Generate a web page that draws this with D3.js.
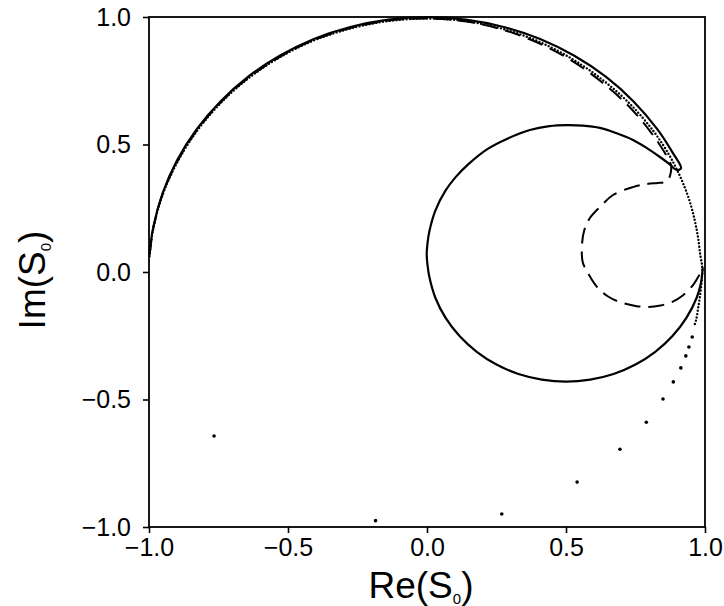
<!DOCTYPE html>
<html>
<head>
<meta charset="utf-8">
<script src="https://cdn.jsdelivr.net/npm/d3@7"></script>
<style>
  html, body { margin: 0; padding: 0; background: #fff; }
  svg { display: block; }
  text { font-family: "Liberation Sans", Arial, Helvetica, sans-serif; fill: #000; }
</style>
</head>
<body>
<svg id="chart" width="724" height="606"></svg>
<script>
// Argand diagram of the S-wave S-matrix element S0: [Re, Im] pairs.

// Solid curve: unitary arc, cusp, then the inner loop back to S0 = 1
const solidCurve = [
  [-0.998, 0.070], [-0.985, 0.174], [-0.951, 0.309], [-0.899, 0.438], [-0.829, 0.559],
  [-0.743, 0.669], [-0.643, 0.766], [-0.530, 0.848], [-0.407, 0.914], [-0.276, 0.961],
  [-0.139, 0.990], [0.000, 1.000], [0.139, 0.990], [0.276, 0.961], [0.407, 0.914],
  [0.530, 0.848], [0.643, 0.766], [0.743, 0.669], [0.829, 0.559], [0.883, 0.469],
  [0.914, 0.407],
  [0.898, 0.400], [0.870, 0.425], [0.838, 0.451], [0.790, 0.487], [0.741, 0.518],
  [0.680, 0.545], [0.622, 0.565], [0.560, 0.574], [0.503, 0.576], [0.440, 0.572],
  [0.370, 0.557], [0.289, 0.523], [0.217, 0.482], [0.150, 0.424], [0.103, 0.372],
  [0.067, 0.320], [0.030, 0.241], [0.008, 0.157], [0.002, 0.114], [-0.001, 0.070],
  [0.002, 0.026], [0.008, -0.017], [0.030, -0.101], [0.067, -0.180], [0.117, -0.251],
  [0.179, -0.313], [0.250, -0.363], [0.329, -0.400], [0.413, -0.422], [0.500, -0.430],
  [0.587, -0.422], [0.671, -0.400], [0.750, -0.363], [0.821, -0.313], [0.883, -0.251],
  [0.933, -0.180], [0.970, -0.101], [0.986, -0.040], [0.992, 0.018]
];

// Dashed curve: follows the arc, hooks at the top right and makes a small loop
const dashedCurve = [
  [-0.998, 0.066], [-0.985, 0.170], [-0.951, 0.305], [-0.898, 0.434], [-0.828, 0.555],
  [-0.742, 0.665], [-0.642, 0.762], [-0.529, 0.844], [-0.406, 0.910], [-0.275, 0.957],
  [-0.139, 0.986], [0.000, 0.994], [0.138, 0.983], [0.273, 0.950], [0.401, 0.898],
  [0.519, 0.830], [0.627, 0.746], [0.725, 0.651], [0.808, 0.544], [0.861, 0.457],
  [0.878, 0.418], [0.876, 0.385], [0.868, 0.363], [0.852, 0.352], [0.830, 0.349],
  [0.790, 0.345], [0.741, 0.333], [0.669, 0.302], [0.622, 0.255], [0.586, 0.212],
  [0.566, 0.165], [0.558, 0.114], [0.560, 0.039], [0.576, 0.002], [0.612, -0.059],
  [0.650, -0.095], [0.694, -0.118], [0.750, -0.133], [0.791, -0.137], [0.840, -0.131],
  [0.881, -0.118], [0.920, -0.092], [0.957, -0.051], [0.978, -0.015], [0.992, 0.018]
];

// Dotted curve: densely sampled run around the unit circle
const dottedCurve = [
  [-0.998, 0.062], [-0.985, 0.168], [-0.951, 0.303], [-0.897, 0.433], [-0.827, 0.554],
  [-0.741, 0.664], [-0.641, 0.761], [-0.528, 0.843], [-0.405, 0.909], [-0.275, 0.955],
  [-0.139, 0.984], [0.000, 0.994], [0.138, 0.984], [0.274, 0.953], [0.403, 0.903],
  [0.523, 0.835], [0.633, 0.752], [0.732, 0.657], [0.817, 0.549], [0.870, 0.461],
  [0.900, 0.399], [0.926, 0.335], [0.947, 0.270], [0.963, 0.203], [0.975, 0.135],
  [0.983, 0.067], [0.990, 0.018], [0.988, -0.035], [0.983, -0.086], [0.976, -0.137],
  [0.968, -0.188], [0.960, -0.215]
];

// Dotted curve: the sparse points further along the circle
const dottedPoints = [
  [0.954, -0.255], [0.942, -0.294], [0.931, -0.329], [0.913, -0.376], [0.886, -0.431],
  [0.849, -0.498], [0.789, -0.589], [0.694, -0.695], [0.540, -0.824], [0.269, -0.949],
  [-0.185, -0.975], [-0.766, -0.643]
];

const tickValues = [-1.0, -0.5, 0.0, 0.5, 1.0];

const svg = d3.select("#chart");
const margin = { left: 149, top: 17, right: 19, bottom: 79 };
const W = 724 - margin.left - margin.right;
const H = 606 - margin.top - margin.bottom;

const x = d3.scaleLinear().domain([-1, 1]).range([margin.left, margin.left + W]);
const y = d3.scaleLinear().domain([-1, 1]).range([margin.top + H, margin.top]);

const line = d3.line()
  .x(d => x(d[0]))
  .y(d => y(d[1]))
  .curve(d3.curveCatmullRom.alpha(0.5));

const plot = svg.append("g");

plot.append("path")
  .attr("d", line(dottedCurve))
  .attr("fill", "none")
  .attr("stroke", "#000")
  .attr("stroke-width", 2.4)
  .attr("stroke-linecap", "round")
  .attr("stroke-dasharray", "0 3.4");

plot.selectAll("circle.pt")
  .data(dottedPoints)
  .join("circle")
  .attr("class", "pt")
  .attr("cx", d => x(d[0]))
  .attr("cy", d => y(d[1]))
  .attr("r", 1.8)
  .attr("fill", "#000");

plot.append("path")
  .attr("d", line(dashedCurve))
  .attr("fill", "none")
  .attr("stroke", "#000")
  .attr("stroke-width", 2)
  .attr("stroke-dasharray", "16 8");

plot.append("path")
  .attr("d", line(solidCurve))
  .attr("fill", "none")
  .attr("stroke", "#000")
  .attr("stroke-width", 2.2)
  .attr("stroke-linejoin", "round");

// Frame
svg.append("rect")
  .attr("x", margin.left)
  .attr("y", margin.top)
  .attr("width", W)
  .attr("height", H)
  .attr("fill", "none")
  .attr("stroke", "#000")
  .attr("stroke-width", 1.8);

const fmt = d3.format(".1f");

const xAxis = svg.append("g")
  .attr("transform", `translate(0,${margin.top + H})`)
  .call(d3.axisBottom(x).tickValues(tickValues).tickFormat(fmt).tickSize(6).tickPadding(5));

const yAxis = svg.append("g")
  .attr("transform", `translate(${margin.left},0)`)
  .call(d3.axisLeft(y).tickValues(tickValues).tickFormat(fmt).tickSize(6).tickPadding(12));

[xAxis, yAxis].forEach(g => {
  g.select(".domain").remove();
  g.selectAll(".tick line").attr("stroke", "#000").attr("stroke-width", 1.6);
  g.selectAll(".tick text")
    .attr("font-family", "'Liberation Sans', Arial, Helvetica, sans-serif")
    .attr("font-size", 25)
    .attr("fill", "#000");
});

// Axis titles with subscript
const xTitle = svg.append("text")
  .attr("x", 421)
  .attr("y", 598)
  .attr("text-anchor", "middle")
  .attr("font-size", 37);
xTitle.append("tspan").text("Re(S");
xTitle.append("tspan").attr("font-size", 15).attr("dy", 6).text("0");
xTitle.append("tspan").attr("dy", -6).text(")");

const yTitle = svg.append("text")
  .attr("transform", "translate(45,280) rotate(-90)")
  .attr("text-anchor", "middle")
  .attr("font-size", 37);
yTitle.append("tspan").text("Im(S");
yTitle.append("tspan").attr("font-size", 15).attr("dy", 6).text("0");
yTitle.append("tspan").attr("dy", -6).text(")");
</script>
</body>
</html>
